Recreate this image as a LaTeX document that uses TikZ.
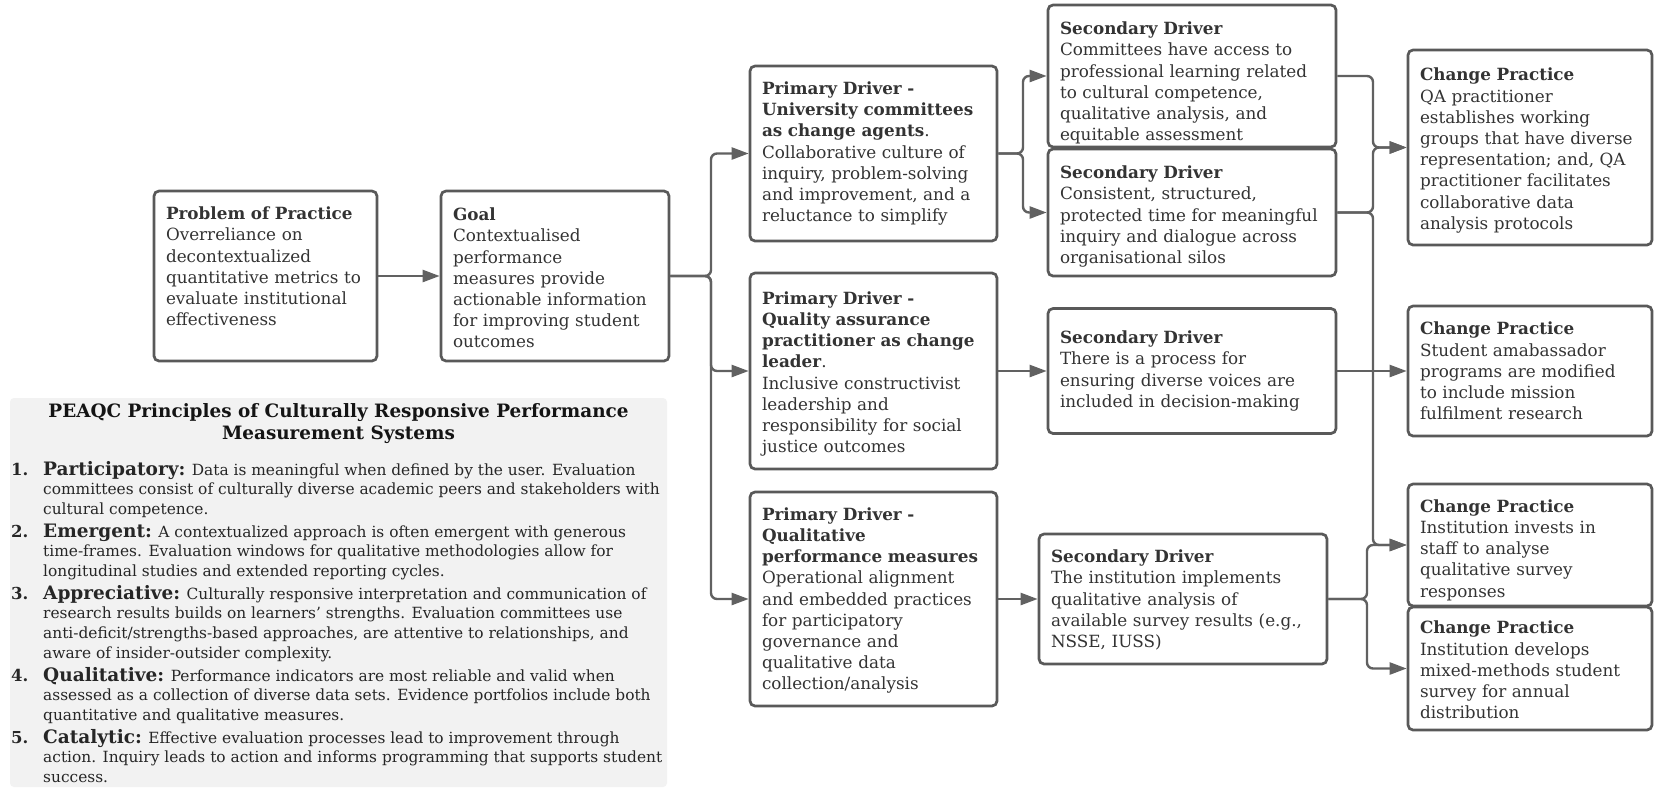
\documentclass[tikz,border=0pt]{standalone}
\usepackage{fontspec}
\setmainfont{DejaVu Serif}
\usetikzlibrary{arrows.meta}
\definecolor{ink}{HTML}{333333}
\definecolor{pink}{HTML}{262626}
\definecolor{edgec}{HTML}{595959}
\definecolor{arrc}{HTML}{616161}
\definecolor{panelc}{HTML}{F2F2F2}
\newcommand{\mainsz}{\fontsize{16.8pt}{21.2pt}\selectfont}
\newcommand{\bodysz}{\fontsize{15.4pt}{19.7pt}\selectfont}
\newcommand{\termsz}{\fontsize{18.5pt}{19.7pt}\selectfont}
\newcommand{\numsz}{\fontsize{16.5pt}{19.7pt}\selectfont}
\newcommand{\titlesz}{\fontsize{18.4pt}{22.5pt}\selectfont}
% first-line strut: pushes a centred text block down
\newcommand{\fl}[1]{\rule{0pt}{#1pt}}
\begin{document}
\begin{tikzpicture}[x=1pt,y=-1pt,
  dbox/.style={draw=edgec, line width=2.7pt, rounded corners=5pt, fill=white,
    text=ink, align=left, inner xsep=12pt, inner ysep=0pt, font=\mainsz},
  conn/.style={draw=arrc, line width=2.4pt, rounded corners=6pt,
    -{Triangle[length=17pt,width=12pt]}},
  pitem/.style={anchor=base west, inner sep=0pt, text=pink}]
\useasboundingbox[fill=white] (0,0) rectangle (1654,788);

% ---- main boxes ----
\node[dbox, minimum width=223pt, minimum height=170pt, text width=199pt] (pop) at (265.5,276)
 {\fl{20.8}\textbf{Problem of Practice}\\Overreliance on\\decontextualized\\quantitative metrics to\\evaluate institutional\\effectiveness\\\strut};
\node[dbox, minimum width=228pt, minimum height=170pt, text width=204pt] (goal) at (555,276)
 {\fl{16.8}\textbf{Goal}\\Contextualised\\performance\\measures provide\\actionable information\\for improving student\\outcomes};

\node[dbox, minimum width=247pt, minimum height=175pt, text width=223pt] (pd1) at (873.5,153.5)
 {\textbf{Primary Driver -}\\\textbf{University committees}\\\textbf{as change agents}.\\Collaborative culture of\\inquiry, problem-solving\\and improvement, and a\\reluctance to simplify};
\node[dbox, minimum width=247pt, minimum height=196pt, text width=223pt] (pd2) at (873.5,371)
 {\fl{18.8}\textbf{Primary Driver -}\\\textbf{Quality assurance}\\\textbf{practitioner as change}\\\textbf{leader}.\\Inclusive constructivist\\leadership and\\responsibility for social\\justice outcomes};
\node[dbox, minimum width=247pt, minimum height=214pt, text width=223pt] (pd3) at (873.5,599)
 {\fl{15.8}\textbf{Primary Driver -}\\\textbf{Qualitative}\\\textbf{performance measures}\\Operational alignment\\and embedded practices\\for participatory\\governance and\\qualitative data\\collection/analysis};

\node[dbox, minimum width=288pt, minimum height=142pt, text width=264pt] (sd1) at (1192,76)
 {\fl{26.8}\textbf{Secondary Driver}\\Committees have access to\\professional learning related\\to cultural competence,\\qualitative analysis, and\\equitable assessment};
\node[dbox, minimum width=288pt, minimum height=127pt, text width=264pt] (sd2) at (1192,212.5)
 {\fl{20.8}\textbf{Secondary Driver}\\Consistent, structured,\\protected time for meaningful\\inquiry and dialogue across\\organisational silos};
\node[dbox, minimum width=288pt, minimum height=125pt, text width=264pt] (sd3) at (1192,371)
 {\textbf{Secondary Driver}\\There is a process for\\ensuring diverse voices are\\included in decision-making};
\node[dbox, minimum width=288pt, minimum height=130pt, text width=264pt] (sd4) at (1183,599)
 {\fl{14.8}\textbf{Secondary Driver}\\The institution implements\\qualitative analysis of\\available survey results (e.g.,\\NSSE, IUSS)};

\node[dbox, minimum width=244pt, minimum height=195pt, text width=220pt] (cp1) at (1530,147.5)
 {\fl{18.8}\textbf{Change Practice}\\QA practitioner\\establishes working\\groups that have diverse\\representation; and, QA\\practitioner facilitates\\collaborative data\\analysis protocols};
\node[dbox, minimum width=244pt, minimum height=130pt, text width=220pt] (cp2) at (1530,371)
 {\textbf{Change Practice}\\Student amabassador\\programs are modified\\to include mission\\fulfilment research};
\node[dbox, minimum width=244pt, minimum height=122pt, text width=220pt] (cp3) at (1530,545)
 {\fl{22.8}\textbf{Change Practice}\\Institution invests in\\staff to analyse\\qualitative survey\\responses};
\node[dbox, minimum width=244pt, minimum height=123pt, text width=220pt] (cp4) at (1530,668.5)
 {\fl{15.8}\textbf{Change Practice}\\Institution develops\\mixed-methods student\\survey for annual\\distribution};

% ---- connectors ----
\coordinate (gb) at (711,276);
\coordinate (pb) at (1023,153.5);
\coordinate (rb1) at (1373,76);
\coordinate (rb2) at (1373,212.5);
\coordinate (rb4) at (1367,599);

\draw[conn] (pop.east) -- (goal.west);
\draw[conn] (goal.east) -- (gb) |- (pd1.west);
\draw[conn] (goal.east) -- (gb) |- (pd2.west);
\draw[conn] (goal.east) -- (gb) |- (pd3.west);
\draw[conn] (pd1.east) -- (pb) |- (sd1.west);
\draw[conn] (pd1.east) -- (pb) |- (sd2.west);
\draw[conn] (pd2.east) -- (pd2.east -| sd3.west);
\draw[conn] (pd3.east) -- (pd3.east -| sd4.west);
\draw[conn] (sd1.east) -- (rb1) |- (cp1.west);
\draw[conn] (sd2.east) -- (rb2) |- (cp1.west);
\draw[conn] (sd2.east) -- (rb2) |- (cp3.west);
\draw[conn] (sd3.east) -- (sd3.east -| cp2.west);
\draw[conn] (sd4.east) -- (rb4) |- (cp3.west);
\draw[conn] (sd4.east) -- (rb4) |- (cp4.west);

% ---- PEAQC panel ----
\node[fill=panelc, rounded corners=4pt, minimum width=657pt, minimum height=389pt, inner sep=0pt] (peaqc) at (338.5,592.5) {};
\node[anchor=base, inner sep=0pt, text=black!92] (ptitle) at (338.5,417)
 {\parbox[t]{650pt}{\centering\titlesz\bfseries PEAQC Principles of Culturally Responsive Performance\\Measurement Systems}};

\node[pitem] (it1) at (11,475) {\makebox[32pt][l]{\numsz\bfseries 1.}\parbox[t]{626pt}{\bodysz\raggedright
 {\termsz\bfseries Participatory:} Data is meaningful when defined by the user. Evaluation\\
 committees consist of culturally diverse academic peers and stakeholders with\\
 cultural competence.}};
\node[pitem] (it2) at (11,537) {\makebox[32pt][l]{\numsz\bfseries 2.}\parbox[t]{626pt}{\bodysz\raggedright
 {\termsz\bfseries Emergent:} A contextualized approach is often emergent with generous\\
 time-frames. Evaluation windows for qualitative methodologies allow for\\
 longitudinal studies and extended reporting cycles.}};
\node[pitem] (it3) at (11,599) {\makebox[32pt][l]{\numsz\bfseries 3.}\parbox[t]{626pt}{\bodysz\raggedright
 {\termsz\bfseries Appreciative:} Culturally responsive interpretation and communication of\\
 research results builds on learners’ strengths. Evaluation committees use\\
 anti-deficit/strengths-based approaches, are attentive to relationships, and\\
 aware of insider-outsider complexity.}};
\node[pitem] (it4) at (11,681) {\makebox[32pt][l]{\numsz\bfseries 4.}\parbox[t]{626pt}{\bodysz\raggedright
 {\termsz\bfseries Qualitative:} Performance indicators are most reliable and valid when\\
 assessed as a collection of diverse data sets. Evidence portfolios include both\\
 quantitative and qualitative measures.}};
\node[pitem] (it5) at (11,743) {\makebox[32pt][l]{\numsz\bfseries 5.}\parbox[t]{626pt}{\bodysz\raggedright
 {\termsz\bfseries Catalytic:} Effective evaluation processes lead to improvement through\\
 action. Inquiry leads to action and informs programming that supports student\\
 success.}};
\end{tikzpicture}
\end{document}
